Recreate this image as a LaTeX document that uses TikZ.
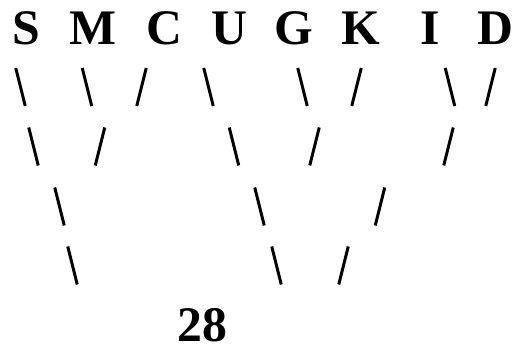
\documentclass[tikz,border=0pt]{standalone}
\usepackage{fontspec}
\setmainfont{Liberation Serif}
\usepackage{tikz}
\tikzset{letter/.style={font=\fontsize{28.3}{34}\selectfont\bfseries,anchor=base,inner sep=0pt},twig/.style={line width=1.7pt}}
\newcommand{\bk}[2]{\draw[twig] (#1-4.75,#2)--(#1+4.75,#2+38);}
\newcommand{\fw}[2]{\draw[twig] (#1+4.75,#2)--(#1-4.75,#2+38);}

\begin{document}
\begin{tikzpicture}[x=0.02cm,y=-0.02cm]
\useasboundingbox (0,0) rectangle (531,347);
\node[letter] (s) at (26,45){S};\node[letter] (m) at (93,45){M};\node[letter] (c) at (164.5,45){C};\node[letter] (u) at (229,45){U};
\node[letter] (g) at (294,45){G};\node[letter] (k) at (361,45){K};\node[letter] (i) at (430,45){I};\node[letter] (d) at (495,45){D};
% first row
\bk{20.5}{68}\bk{87}{68}\fw{141.5}{68}\bk{208.5}{68}\bk{302.5}{68}\fw{356.5}{68}\bk{450}{68}\fw{490.5}{68}
% second row
\bk{33.5}{127.5}\fw{100}{127.5}\bk{234}{127.5}\fw{314.5}{127.5}\fw{448.5}{127.5}
% third row
\bk{59.5}{187.5}\bk{259.5}{187.5}\fw{380}{187.5}
% fourth row
\bk{72.5}{246.5}\bk{276.5}{246.5}\fw{343.5}{246.5}
\node[letter] (sum) at (202.5,341.5){28};
\end{tikzpicture}
\end{document}
